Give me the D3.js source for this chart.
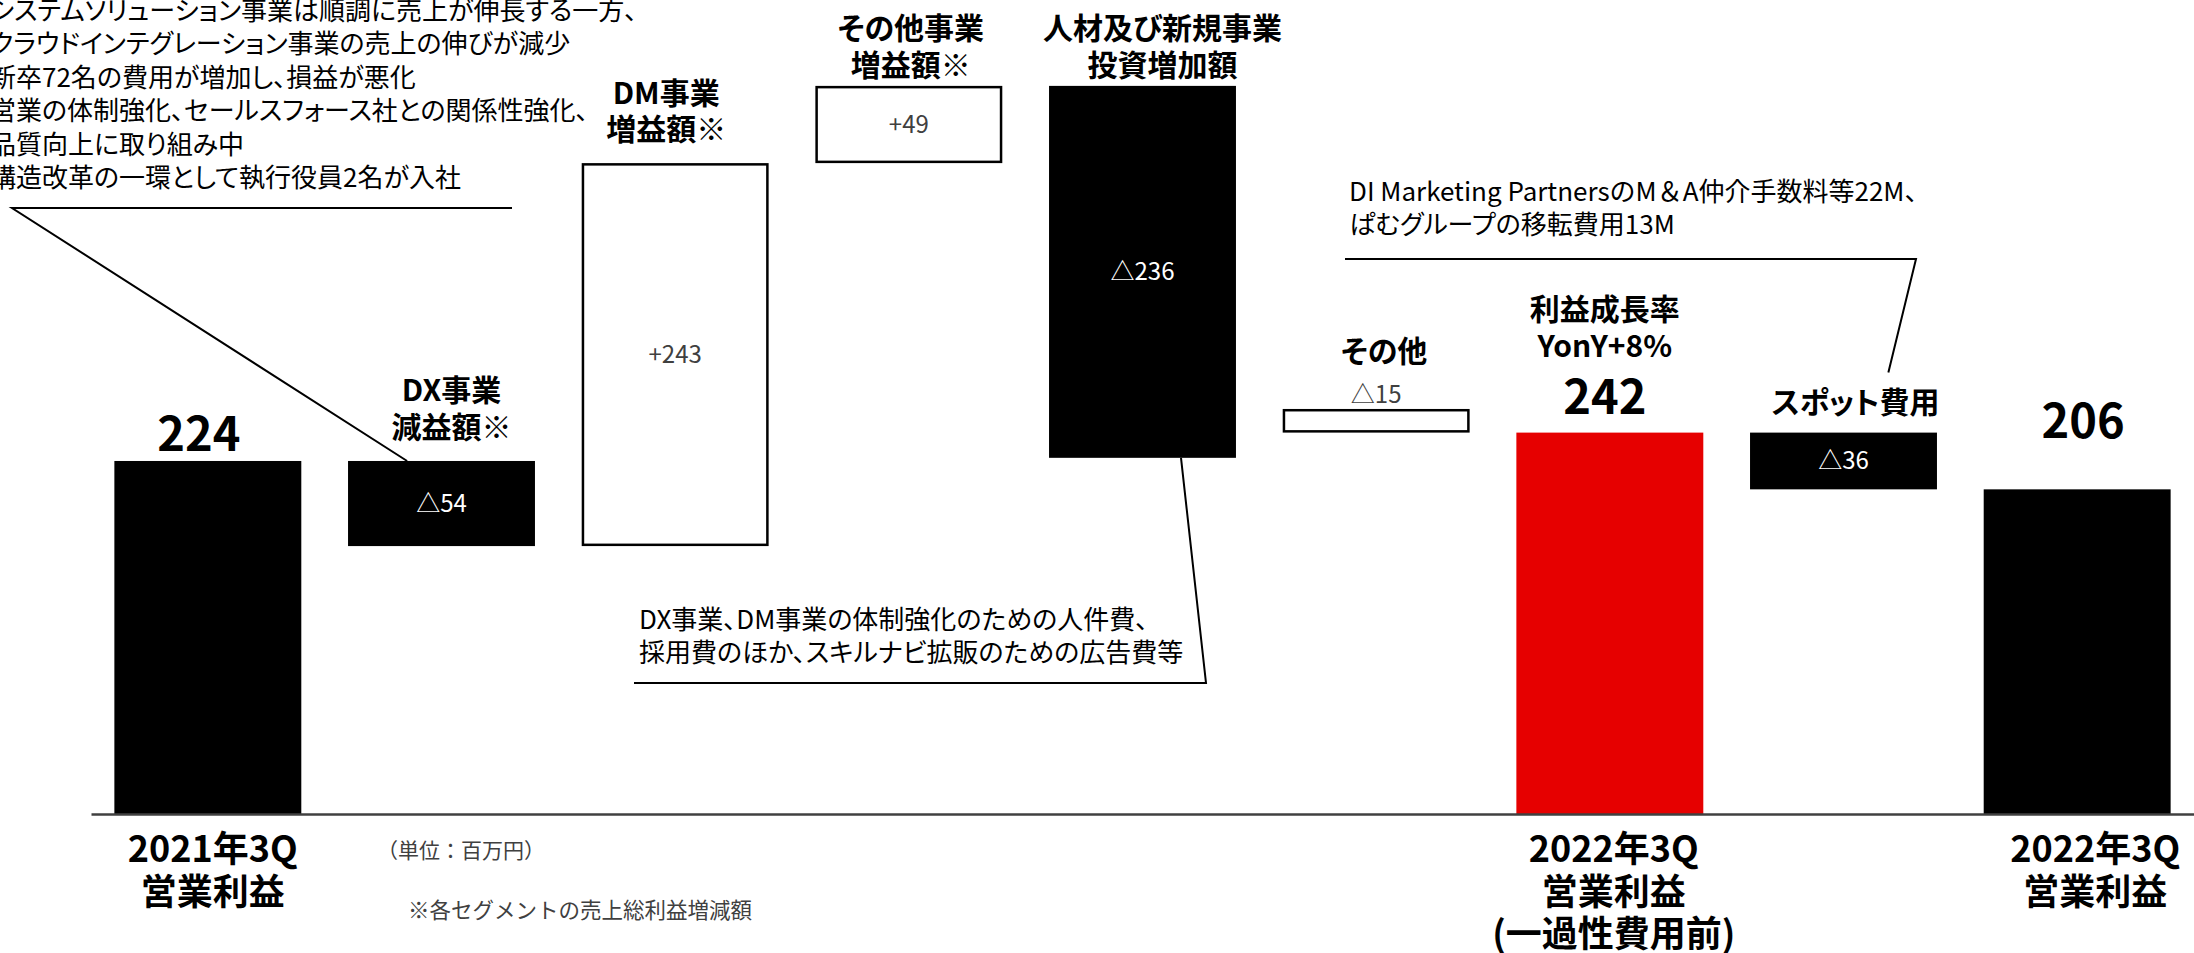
<!DOCTYPE html>
<html lang="ja">
<head>
<meta charset="utf-8">
<script src="https://cdn.jsdelivr.net/npm/d3@7"></script>
<style>
html,body{margin:0;padding:0;background:#fff;overflow:hidden;}
svg{display:block;}
text,tspan{font-family:"Noto Sans CJK JP","Noto Sans",sans-serif;font-feature-settings:"palt";}
.plain{font-feature-settings:normal;}
</style>
</head>
<body>
<svg id="chart" width="2194" height="953"></svg>
<script>
// 営業利益 増減分析（単位：百万円）

// steps of the bridge, left to right
const steps = ["2021年3Q営業利益", "DX事業減益額", "DM事業増益額", "その他事業増益額",
  "人材及び新規事業投資増加額", "その他", "2022年3Q営業利益(一過性費用前)", "スポット費用", "2022年3Q営業利益"];
// "total" bars stand on zero, "step" bars float from a starting level
const stepKind = ["total", "step", "step", "step", "step", "step", "total", "step", "total"];
// profit level (totals) or change amount (steps)
const stepValue = [224, -54, 243, 49, -236, -15, 242, -36, 206];
// level each change bar starts from
const stepFrom = [0, 224, 170, 413, 462, 257, 0, 242, 0];

// headings above the bars
const headLines = [[], ["DX事業", "減益額※"], ["DM事業", "増益額※"], ["その他事業", "増益額※"],
  ["人材及び新規事業", "投資増加額"], ["その他"], ["利益成長率", "YonY+8%"], ["スポット費用"], []];
// category names under the axis
const footLines = [["2021年3Q", "営業利益"], [], [], [], [], [],
  ["2022年3Q", "営業利益", "(一過性費用前)"], [], ["2022年3Q", "営業利益"]];

// call-out notes
const noteSegments = [
  "システムソリューション事業は順調に売上が伸長する一方、",
  "クラウドインテグレーション事業の売上の伸びが減少",
  "新卒72名の費用が増加し、損益が悪化",
  "営業の体制強化、セールスフォース社との関係性強化、",
  "品質向上に取り組み中",
  "構造改革の一環として執行役員2名が入社"
];
const noteInvest = ["DX事業、DM事業の体制強化のための人件費、", "採用費のほか、スキルナビ拡販のための広告費等"];
const noteSpot = ["DI Marketing PartnersのM＆A仲介手数料等22M、", "ぱむグループの移転費用13M"];
const unitNote = "（単位：百万円）";
const footNote = "※各セグメントの売上総利益増減額";

// ---- styling ----
const barFill = ["#000", "#000", "#fff", "#fff", "#000", "#fff", "#e60000", "#000", "#000"];
const headDx = [-9, 10, -9, 2, 20, 8, -5, 12, 6];
const headGap = [10, 23, 23, 10, 10, 47, 76, 20, 51];
const footDx = [5, 0, 0, 0, 0, 0, 4, 0, 18];

const svg = d3.select("#chart");

const x = d3.scaleBand()
  .domain(d3.range(steps.length))
  .range([91, 2194])
  .paddingInner(0.2)
  .paddingOuter(0.1);
const y = d3.scaleLinear().domain([0, 500]).range([814, 26]);
const bw = x.bandwidth();

const bars = steps.map((name, i) => {
  const a = stepKind[i] === "total" ? 0 : stepFrom[i];
  const b = stepKind[i] === "total" ? stepValue[i] : stepFrom[i] + stepValue[i];
  return { i, name, kind: stepKind[i], value: stepValue[i], lo: Math.min(a, b), hi: Math.max(a, b) };
});
const barH = d => y(d.lo) - y(d.hi);
const outlined = d => barFill[d.i] === "#fff";

const fmt = d => d.kind === "total" ? String(d.value)
  : (d.value < 0 ? "△" + Math.abs(d.value) : "+" + d.value);

// bars
svg.append("g").selectAll("rect").data(bars).join("rect")
  .attr("x", d => x(d.i) + (outlined(d) ? 1.25 : 0))
  .attr("y", d => y(d.hi) + (outlined(d) ? 1.25 : 0))
  .attr("width", d => bw - (outlined(d) ? 2.5 : 0))
  .attr("height", d => barH(d) - (outlined(d) ? 2.5 : 0))
  .attr("fill", d => barFill[d.i])
  .attr("stroke", d => outlined(d) ? "#000" : "none")
  .attr("stroke-width", 2.5);

// base line
const axis = svg.append("g")
  .attr("transform", `translate(0,${y(0)})`)
  .call(d3.axisBottom(x).tickSize(0).tickSizeOuter(0).tickFormat(""));
axis.select(".domain").attr("stroke", "#404040").attr("stroke-width", 2.5);

// values for the totals (large, above the bar)
const totalGap = [10, 0, 0, 0, 0, 0, 19, 0, 51];
svg.append("g").selectAll("text").data(bars.filter(d => d.kind === "total")).join("text")
  .attr("x", d => x(d.i) + bw / 2 + headDx[d.i])
  .attr("y", d => y(d.hi) - totalGap[d.i])
  .attr("text-anchor", "middle")
  .attr("font-size", 47).attr("font-weight", 700).attr("fill", "#000")
  .text(fmt);

// values for the change bars: inside, or just above when the bar is thin
const thin = d => barH(d) < 40;
svg.append("g").selectAll("text").data(bars.filter(d => d.kind === "step")).join("text")
  .attr("class", "plain")
  .attr("x", d => x(d.i) + bw / 2)
  .attr("y", d => thin(d) ? y(d.hi) - 6 : y(d.hi) + barH(d) / 2 + 8)
  .attr("text-anchor", "middle")
  .attr("font-size", 24)
  .attr("fill", d => (barFill[d.i] === "#000" && !thin(d)) ? "#fff" : "#404040")
  .text(fmt);

// headings
const lineH = 36.5;
bars.forEach(d => {
  const lines = headLines[d.i];
  if (!lines.length) return;
  const base = y(d.hi) - headGap[d.i];
  const t = svg.append("text")
    .attr("text-anchor", "middle")
    .attr("font-size", 30).attr("font-weight", 700).attr("fill", "#000");
  lines.forEach((s, k) => {
    t.append("tspan")
      .attr("x", x(d.i) + bw / 2 + headDx[d.i])
      .attr("y", base - (lines.length - 1 - k) * lineH)
      .text(s);
  });
});

// category names under the axis
bars.forEach(d => {
  const lines = footLines[d.i];
  if (!lines.length) return;
  const t = svg.append("text")
    .attr("text-anchor", "middle")
    .attr("font-size", 36).attr("font-weight", 700).attr("fill", "#000");
  lines.forEach((s, k) => {
    t.append("tspan")
      .attr("x", x(d.i) + bw / 2 + footDx[d.i])
      .attr("y", y(0) + 48 + k * 42.5)
      .text(s);
  });
});

// note blocks (lineClass: optional class per line)
function note(lines, x0, y0, size, step, lineClass) {
  const t = svg.append("text").attr("font-size", size).attr("fill", "#000");
  lines.forEach((s, k) => {
    const ts = t.append("tspan").attr("x", x0).attr("y", y0 + k * step).text(s);
    if (lineClass && lineClass[k]) ts.attr("class", lineClass[k]);
  });
  return t;
}
note(noteSegments, -10, 20, 26, 33.4);
note(noteInvest, 639, 629, 26, 32.5);
note(noteSpot, 1349, 201, 26, 32.5, ["plain", null]);

// leader lines
const line = d3.line();
const leader = pts => svg.append("path").attr("d", line(pts))
  .attr("fill", "none").attr("stroke", "#000").attr("stroke-width", 2);
leader([[512, 208], [12, 208], [x(1) + bw * 0.316, y(bars[1].hi)]]);
leader([[634, 683], [1206, 683], [x(4) + bw * 0.706, y(bars[4].lo)]]);
leader([[1345, 259], [1916, 259], [x(7) + bw * 0.74, y(bars[7].hi) - 60]]);

// unit and footnote
svg.append("text").attr("class", "plain").attr("x", 377).attr("y", 858)
  .attr("font-size", 21).attr("fill", "#404040").text(unitNote);
svg.append("text").attr("class", "plain").attr("x", 408).attr("y", 918)
  .attr("font-size", 21.5).attr("fill", "#404040").text(footNote);
</script>
</body>
</html>
